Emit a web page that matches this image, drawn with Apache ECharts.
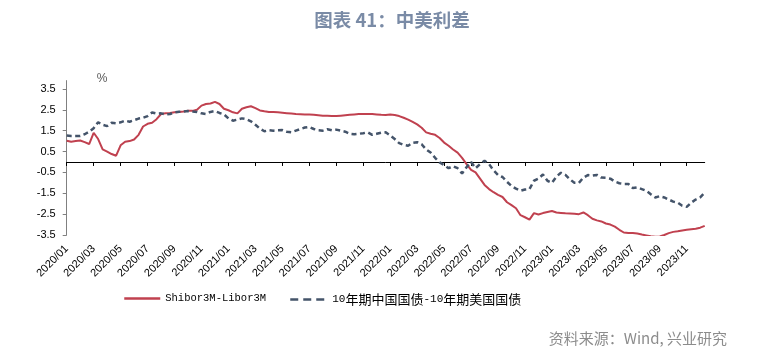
<!DOCTYPE html>
<html>
<head>
<meta charset="utf-8">
<script src="https://cdn.jsdelivr.net/npm/echarts@6/dist/echarts.min.js"></script>
<style>
html,body{margin:0;padding:0;background:#fff;}
#chart{width:759px;height:356px;}
</style>
</head>
<body>
<div id="chart"></div>
<script>
// Categories: dates on the 1st, 11th and 21st of each month, 2020/01/01 .. 2023/12/11
const categories = [];
for (let y = 2020; y <= 2023; y++) {
  for (let m = 1; m <= 12; m++) {
    for (const d of [1, 11, 21]) {
      categories.push(y + '/' + String(m).padStart(2, '0') + '/' + String(d).padStart(2, '0'));
    }
  }
}
categories.length = 143;

const tickLabels = ['2020/01','2020/03','2020/05','2020/07','2020/09','2020/11',
  '2021/01','2021/03','2021/05','2021/07','2021/09','2021/11',
  '2022/01','2022/03','2022/05','2022/07','2022/09','2022/11',
  '2023/01','2023/03','2023/05','2023/07','2023/09','2023/11'];

const yTicks = [-3.5, -2.5, -1.5, -0.5, 0.5, 1.5, 2.5, 3.5];

const shiborLibor = [
  1.02, 0.97, 1.0, 1.03, 0.95, 0.86, 1.4, 1.1, 0.6, 0.5,
  0.38, 0.3, 0.8, 0.97, 1.0, 1.08, 1.3, 1.7, 1.83, 1.88,
  2.05, 2.3, 2.33, 2.35, 2.38, 2.4, 2.42, 2.45, 2.45, 2.5,
  2.7, 2.78, 2.8, 2.88, 2.78, 2.55, 2.48, 2.38, 2.33, 2.55,
  2.62, 2.67, 2.58, 2.47, 2.43, 2.4, 2.39, 2.38, 2.36, 2.34,
  2.32, 2.3, 2.29, 2.28, 2.27, 2.26, 2.24, 2.22, 2.21, 2.2,
  2.2, 2.22, 2.24, 2.26, 2.28, 2.3, 2.3, 2.3, 2.3, 2.28,
  2.26, 2.25, 2.27, 2.25, 2.2, 2.12, 2.03, 1.92, 1.8, 1.64,
  1.42, 1.35, 1.3, 1.15, 0.93, 0.78, 0.6, 0.45, 0.2, -0.1,
  -0.38, -0.5, -0.8, -1.1, -1.3, -1.45, -1.58, -1.68, -1.93, -2.07,
  -2.22, -2.55, -2.65, -2.76, -2.45, -2.52, -2.45, -2.4, -2.35, -2.42,
  -2.44, -2.46, -2.47, -2.48, -2.5, -2.42, -2.55, -2.72, -2.8, -2.85,
  -2.95, -3.0, -3.1, -3.25, -3.38, -3.4, -3.4, -3.43, -3.48, -3.52,
  -3.56, -3.58, -3.57, -3.5, -3.41, -3.35, -3.32, -3.28, -3.25, -3.22,
  -3.2, -3.15, -3.06
];

const cnUsBond = [
  1.27, 1.25, 1.25, 1.25, 1.33, 1.45, 1.62, 1.9, 1.78, 1.72,
  1.88, 1.85, 1.9, 1.98, 1.93, 2.0, 2.08, 2.12, 2.2, 2.37,
  2.32, 2.33, 2.28, 2.3, 2.38, 2.41, 2.42, 2.44, 2.42, 2.4,
  2.33, 2.3, 2.4, 2.44, 2.35, 2.28, 2.09, 1.98, 2.03, 2.09,
  2.05, 1.95, 1.78, 1.6, 1.47, 1.52, 1.5, 1.52, 1.53, 1.45,
  1.42, 1.5, 1.58, 1.65, 1.68, 1.58, 1.52, 1.5, 1.57, 1.52,
  1.55, 1.5, 1.45, 1.35, 1.33, 1.35, 1.38, 1.42, 1.3, 1.35,
  1.4, 1.42, 1.27, 1.1, 0.9, 0.82, 0.78, 0.92, 0.95, 0.85,
  0.6, 0.45, 0.2, -0.02, -0.15, -0.3, -0.2, -0.3, -0.55, -0.25,
  0.0, -0.3, -0.1, 0.06, -0.1, -0.4, -0.62, -0.72, -0.95, -1.15,
  -1.28, -1.38, -1.32, -1.3, -0.9, -0.8, -0.6, -0.9, -1.0, -0.7,
  -0.52, -0.62, -0.83, -1.0, -1.0, -0.75, -0.63, -0.65, -0.62, -0.75,
  -0.76, -0.8, -0.94, -1.02, -1.05, -1.05, -1.25, -1.22, -1.3, -1.38,
  -1.55, -1.7, -1.64, -1.7, -1.8, -1.9, -1.95, -2.1, -2.15, -1.95,
  -1.8, -1.7, -1.47
];

const seriesNames = ['Shibor3M-Libor3M', '10年期中国国债-10年期美国国债'];
const RED = '#C0414F';
const BLUE = '#44546A';

const isTick = (index, value) => value.endsWith('/01') && tickLabels.indexOf(value.slice(0, 7)) >= 0;

const chart = echarts.init(document.getElementById('chart'), null, {renderer: 'canvas'});
chart.setOption({
  animation: false,
  backgroundColor: '#ffffff',
  grid: {left: 66.7, right: 54.3, top: 80.6, bottom: 121, containLabel: false},
  graphic: [
    {type: 'text', x: 392, y: 20, style: {text: '图表 41：中美利差', fill: '#7A8BA6', font: 'bold 18.5px "Noto Sans CJK SC", sans-serif', textAlign: 'center', textVerticalAlign: 'middle'}},
    {type: 'text', x: 102, y: 79, style: {text: '%', fill: '#595959', font: '12px "Liberation Sans", sans-serif', textAlign: 'center', textVerticalAlign: 'middle'}},
    {type: 'text', x: 727, y: 338, style: {text: '资料来源：Wind, 兴业研究', fill: '#8C8C8C', font: '15px "Noto Sans CJK SC", sans-serif', textAlign: 'right', textVerticalAlign: 'middle'}}
  ],
  legend: [
    {
      show: true, orient: 'horizontal',
      data: [seriesNames[0]], left: 118, top: 288, itemWidth: 36, itemHeight: 10, itemGap: 5,
      itemStyle: {color: 'rgba(0,0,0,0)', borderColor: 'rgba(0,0,0,0)', borderWidth: 0, opacity: 0},
      lineStyle: {width: 2.5},
      textStyle: {fontFamily: '"Liberation Mono", monospace', fontSize: 10.5, color: '#000'}
    },
    {
      show: true, orient: 'horizontal',
      data: [seriesNames[1]], left: 284, top: 288, itemWidth: 37, itemHeight: 10,
      itemStyle: {color: 'rgba(0,0,0,0)', borderColor: 'rgba(0,0,0,0)', borderWidth: 0, opacity: 0},
      lineStyle: {width: 2.5, type: [8, 5]},
      formatter: function () { return '{d|10}{c|年期中国国债}{d|-10}{c|年期美国国债}'; },
      textStyle: {color: '#000', rich: {
        d: {fontFamily: '"Liberation Mono", monospace', fontSize: 11, color: '#000'},
        c: {fontFamily: '"Noto Sans CJK SC", sans-serif', fontSize: 13, color: '#000'}
      }}
    }
  ],
  xAxis: [
    {
      type: 'category', data: categories, boundaryGap: false, position: 'bottom',
      axisLine: {show: false, onZero: false},
      axisTick: {show: false},
      axisLabel: {
        interval: isTick, rotate: 45, margin: 12, fontSize: 11, color: '#000',
        fontFamily: '"Liberation Sans", Arial, sans-serif',
        formatter: function (v) { return v.slice(0, 7); }
      },
      splitLine: {show: false}
    },
    {
      type: 'category', data: categories, boundaryGap: false, position: 'bottom',
      axisLine: {show: true, onZero: true, lineStyle: {color: '#000', width: 1}},
      axisTick: {show: true, interval: isTick, length: 4, inside: false, lineStyle: {color: '#000'}},
      axisLabel: {show: false},
      splitLine: {show: false}
    }
  ],
  yAxis: {
    type: 'value', min: -3.5, max: 3.9,
    axisLine: {show: true, onZero: false, lineStyle: {color: '#808080', width: 1}},
    axisTick: {show: true, length: 4, customValues: yTicks, lineStyle: {color: '#808080'}},
    axisLabel: {
      customValues: yTicks, margin: 11, fontSize: 11, color: '#000',
      fontFamily: '"Liberation Sans", Arial, sans-serif',
      formatter: function (v) { return v.toFixed(1); }
    },
    splitLine: {show: false}
  },
  series: [
    {
      name: seriesNames[0], type: 'line', data: shiborLibor, xAxisIndex: 0,
      symbol: 'none', smooth: false, clip: true,
      lineStyle: {color: RED, width: 2}, itemStyle: {color: RED}
    },
    {
      name: seriesNames[1], type: 'line', data: cnUsBond, xAxisIndex: 0,
      symbol: 'none', smooth: false, clip: true,
      lineStyle: {color: BLUE, width: 2.5, type: [5, 3.5]}, itemStyle: {color: BLUE}
    }
  ]
});
</script>
</body>
</html>
